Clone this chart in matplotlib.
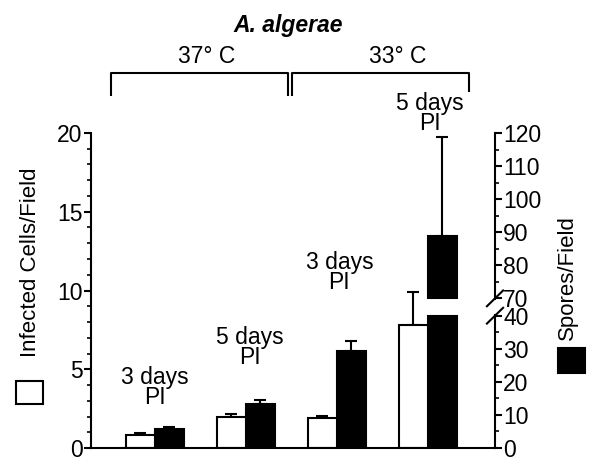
import numpy as np
import matplotlib.pyplot as plt
from matplotlib.patches import Rectangle

plt.rcParams['font.family'] = ['Liberation Sans', 'DejaVu Sans']

# values
groups = ['3 days\nPI', '5 days\nPI', '3 days\nPI', '5 days\nPI']
cells = [0.83, 1.99, 1.91, 7.8]
cells_err = [0.14, 0.19, 0.13, 2.1]
spores = [5.8, 13.2, 29.3, 88.8]
spores_err = [0.6, 1.2, 3.0, 30.0]
temps = ['37° C', '33° C']
left_ticks = [0, 5, 10, 15, 20]
right_ticks = [0, 10, 20, 30, 40, 70, 80, 90, 100, 110, 120]

# the spore axis is broken between 40 and 70
K = 0.21
def spore_y(s):
    s = np.asarray(s, dtype=float)
    return np.where(s <= 40, s * K, 9.5 + (s - 70) * K)

W, H = 601, 469
fig = plt.figure(figsize=(W / 100, H / 100), dpi=100)
ax = fig.add_axes([91 / W, 1 - 448 / H, (495 - 91) / W, (448 - 133) / H])
ax.set_xlim(-0.70, 3.74)
ax.set_ylim(0, 20)

x = np.arange(len(groups))
bw = 0.32
lw = 1.5
fs = 16.5

ax.bar(x - bw / 2, cells, bw, color='white', edgecolor='black', linewidth=lw, zorder=2)
ax.errorbar(x - bw / 2, cells, yerr=[np.zeros(4), cells_err], fmt='none',
            ecolor='black', elinewidth=lw, capsize=4, capthick=lw, zorder=1)

sy = spore_y(spores)
stop = spore_y(np.array(spores) + np.array(spores_err))
for i in range(len(groups)):
    if spores[i] > 40:
        ax.bar(x[i] + bw / 2, spore_y(40), bw, color='black', edgecolor='black', linewidth=lw)
        ax.bar(x[i] + bw / 2, sy[i] - spore_y(70), bw, bottom=spore_y(70),
               color='black', edgecolor='black', linewidth=lw)
    else:
        ax.bar(x[i] + bw / 2, sy[i], bw, color='black', edgecolor='black', linewidth=lw)
ax.errorbar(x + bw / 2, sy, yerr=[np.zeros(4), stop - sy], fmt='none',
            ecolor='black', elinewidth=lw, capsize=4, capthick=lw, zorder=1)

# group labels above the bars
label_y = [2.45, 5.0, 9.75, 19.85]
label_x = [0.0, 1.05, 2.03, 3.02]
for lx, ly, g in zip(label_x, label_y, groups):
    ax.text(lx, ly, g, ha='center', va='bottom', fontsize=fs,
            linespacing=0.85, clip_on=False)

# left axis
ax.spines['top'].set_visible(False)
ax.spines['right'].set_visible(False)
ax.spines['left'].set_linewidth(1.5)
ax.spines['bottom'].set_linewidth(1.5)
ax.set_xticks([])
ax.set_yticks(left_ticks)
ax.set_yticks(np.arange(0, 21, 1), minor=True)
ax.tick_params(axis='y', which='major', direction='out', length=5, width=1.5,
               labelsize=fs, pad=1)
ax.tick_params(axis='y', which='minor', direction='out', length=3, width=1.2)
ax.set_ylabel('Infected Cells/Field', fontsize=16)
ax.yaxis.set_label_coords(-50 / 404, (448 - 262) / 315)

# right axis
ax2 = ax.twinx()
ax2.set_ylim(0, 20)
for s in ['top', 'left', 'bottom', 'right']:
    ax2.spines[s].set_visible(False)
ax2.set_yticks(spore_y(right_ticks))
ax2.set_yticklabels([str(t) for t in right_ticks])
minor = [5, 15, 25, 35, 75, 85, 95, 105, 115]
ax2.set_yticks(spore_y(minor), minor=True)
ax2.tick_params(axis='y', which='major', direction='out', length=5, width=1.5,
                labelsize=fs, pad=1)
ax2.tick_params(axis='y', which='minor', direction='out', length=3, width=1.2)
ax2.set_ylabel('Spores/Field', fontsize=16, rotation=90)
ax2.yaxis.set_label_coords(1 + 62 / 404, (448 - 278) / 315)

# broken right spine
yt = ax2.get_yaxis_transform()
ax2.plot([1, 1], [0, spore_y(40) + 0.05], color='black', lw=1.5, transform=yt, clip_on=False)
ax2.plot([1, 1], [spore_y(70) - 0.05, 20], color='black', lw=1.5, transform=yt, clip_on=False)
for s in [40, 70]:
    yc = float(spore_y(s))
    ax2.plot([1 - 0.02, 1 + 0.02], [yc - 0.5, yc + 0.5], color='black', lw=1.5,
             transform=yt, clip_on=False)

# temperature brackets
yb, yd = 23.8, 22.35
bk = dict(color='black', lw=1.5, clip_on=False, solid_capstyle='butt')
ax.plot([-0.484, -0.484, 1.46, 1.46], [yd, yb, yb, yd], **bk)
ax.plot([1.505, 1.505, 3.45, 3.45], [yd, yb, yb, 22.6], **bk)
ax.text(0.57, 24.45, temps[0], ha='center', va='baseline', fontsize=fs, clip_on=False)
ax.text(2.67, 24.45, temps[1], ha='center', va='baseline', fontsize=fs, clip_on=False)
fig.text(288 / W, 1 - 32 / H, 'A. algerae', ha='center', va='baseline',
         fontsize=fs, fontweight='bold', fontstyle='italic')

# legend squares beside the axis labels
fig.add_artist(Rectangle((16 / W, 1 - 404 / H), 27 / W, 23 / H, transform=fig.transFigure,
                         facecolor='white', edgecolor='black', linewidth=1.5))
fig.add_artist(Rectangle((558 / W, 1 - 373 / H), 27 / W, 25 / H, transform=fig.transFigure,
                         facecolor='black', edgecolor='black', linewidth=1.5))

fig.savefig('out.png', dpi=100)
